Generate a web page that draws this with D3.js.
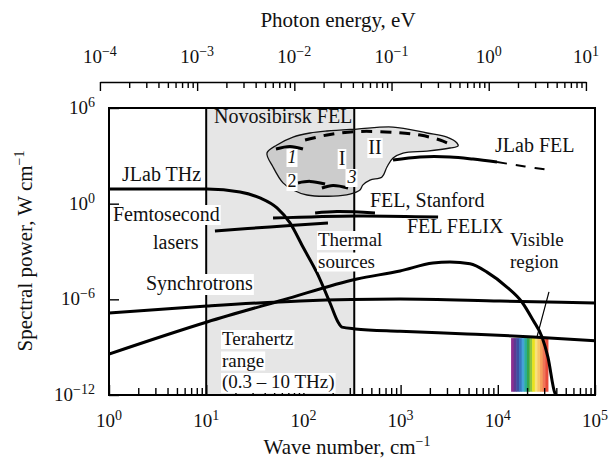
<!DOCTYPE html>
<html>
<head>
<meta charset="utf-8">
<script src="https://cdn.jsdelivr.net/npm/d3@7"></script>
<style>
body { margin: 0; background: #fff; }
text { font-family: "Liberation Serif", "DejaVu Serif", serif; fill: #111; }
</style>
</head>
<body>
<div id="chart"></div>
<script>
const width = 616
const height = 462

// wave number (cm^-1), spectral power (W cm^-1)
const jlabThz = [[1, 8.3], [10.2, 8.3], [22.3, 5.4], [35.7, 2.3], [53.5, 0.54], [72.8, 0.062], [99, 1.9e-3], [138, 4.5e-5], [188, 5.9e-7], [227, 3.8e-8], [249, 1.8e-8], [340, 1.4e-8], [986, 1.0e-8], [4820, 6.8e-9], [23000, 4.4e-9], [1e5, 2.5e-9]]
const thermal = [[1, 3.7e-10], [10.2, 3.8e-8], [61.7, 9.1e-7], [356, 1.9e-5], [986, 6.0e-5], [2150, 1.9e-4], [3220, 2.2e-4], [5180, 1.7e-4], [7740, 5.1e-5], [12400, 5.9e-6], [17700, 6.8e-7], [23000, 5.0e-8], [28500, 4.4e-9], [32800, 2.4e-10], [38700, 1.3e-12], [39700, 1e-12]]
const synchrotrons = [[1, 1.4e-7], [10.2, 3.8e-7], [92.4, 7.9e-7], [986, 1.05e-6], [10500, 7.9e-7], [1e5, 5.9e-7]]
const femtosecond = [[12.3, 0.019], [45.3, 0.035], [179, 0.062]]
const felFelix = [[48.7, 0.126], [356, 0.17], [2430, 0.145]]
const felStanford = [[132, 0.26], [222, 0.32], [545, 0.26]]
const jlabFel = [[836, 550], [1585, 850], [3220, 850], [5560, 630], [9820, 410]]
const jlabFelExt = [[9820, 410], [19000, 214], [34400, 129]]
const novoDashed = [[104, 9.8e3], [188, 2.2e4], [382, 3.4e4], [875, 2.9e4], [1585, 2.0e4], [2540, 9.8e3], [3380, 4.8e3]]
const novo1 = [[52.2, 2.7e3], [72.8, 3.9e3], [99, 2.7e3]]
const novo2 = [[88, 20], [117, 25], [167, 17]]
const novo3 = [[155, 9.6], [202, 13.8], [288, 9.6]]
const novoArea = [[42.2, 1.5e3], [53.5, 4.8e3], [78.2, 1.5e4], [117, 2.7e4], [175, 3.6e4], [356, 4.8e4], [836, 6.4e4], [1870, 2.7e4], [3000, 1.5e4], [3800, 6.4e3], [3900, 4.1e3], [3220, 3.1e3], [1870, 2.0e3], [1060, 1.5e3], [836, 730], [724, 200], [644, 47], [484, 30], [410, 15], [382, 7.2], [301, 4.0], [202, 3.0], [109, 3.5], [78.2, 7.2], [61.7, 20], [48.7, 200]]

const thzRange = [10, 333.6]          // 0.3 - 10 THz in cm^-1
const visibleBand = [13700, 32800]
const visiblePower = [1.6e-12, 3.7e-9]
const visibleLeader = [[33600, 2.9e-6], [25300, 4.4e-9]]
const visibleColors = ["#8b2f90", "#5b3b92", "#3d4fa1", "#3a76bf", "#45a2d8", "#2aae9c", "#36a64c", "#8cc43f", "#e9e31c", "#f8e27a", "#f9c467", "#f59e5c", "#f07658", "#e84b3a"]

const waveTicks = [1, 10, 100, 1e3, 1e4, 1e5]
const waveExp = ["0", "1", "2", "3", "4", "5"]
const energyTicks = [1e-4, 1e-3, 1e-2, 1e-1, 1, 10]
const energyExp = ["\u22124", "\u22123", "\u22122", "\u22121", "0", "1"]
const powerTicks = [1e-12, 1e-6, 1, 1e6]
const powerExp = ["\u221212", "\u22126", "0", "6"]

const cmPerEv = 1 / 1.23984e-4

const svg = d3.select("#chart").append("svg")
  .attr("width", width)
  .attr("height", height)

const x = d3.scaleLog().domain([1, 1e5]).range([109, 595])
const y = d3.scaleLog().domain([1e-12, 1e6]).range([395, 108])
const xTop = d3.scaleLog().domain([1e-4, 10]).range([x(1e-4 * cmPerEv), x(10 * cmPerEv)])

svg.append("clipPath").attr("id", "plot")
  .append("rect").attr("x", 109).attr("y", 108).attr("width", 486).attr("height", 287)

const plot = svg.append("g").attr("clip-path", "url(#plot)")

// terahertz band
plot.append("rect")
  .attr("x", x(thzRange[0])).attr("y", 108)
  .attr("width", x(thzRange[1]) - x(thzRange[0])).attr("height", 287)
  .attr("fill", "#e6e6e6")

const line = d3.line().x(d => x(d[0])).y(d => y(d[1])).curve(d3.curveMonotoneX)
const lineBasis = d3.line().x(d => x(d[0])).y(d => y(d[1])).curve(d3.curveCatmullRom.alpha(0.5))
const area = d3.line().x(d => x(d[0])).y(d => y(d[1])).curve(d3.curveCatmullRomClosed.alpha(0.5))

plot.append("path").attr("d", area(novoArea))
  .attr("fill", "#000").attr("fill-opacity", 0.11)

// visible spectrum strip
const band = d3.scaleBand().domain(d3.range(visibleColors.length)).range([x(visibleBand[0]), x(visibleBand[1])])
plot.selectAll(".vis").data(visibleColors).enter().append("rect")
  .attr("x", (d, i) => band(i)).attr("width", band.bandwidth() + 0.5)
  .attr("y", y(visiblePower[1])).attr("height", y(visiblePower[0]) - y(visiblePower[1]))
  .attr("fill", d => d)

plot.selectAll(".thz").data(thzRange).enter().append("line")
  .attr("x1", d => x(d)).attr("x2", d => x(d)).attr("y1", 108).attr("y2", 395)
  .attr("stroke", "#000").attr("stroke-width", 2)

plot.append("path").attr("d", area(novoArea))
  .attr("fill", "none").attr("stroke", "#111").attr("stroke-width", 1.3)

const solid = [jlabThz, thermal, synchrotrons]
solid.forEach(s => {
  plot.append("path").attr("d", line(s))
    .attr("fill", "none").attr("stroke", "#000").attr("stroke-width", 3)
})
const short = [femtosecond, felFelix, felStanford, jlabFel, novo1, novo2, novo3]
short.forEach(s => {
  plot.append("path").attr("d", lineBasis(s))
    .attr("fill", "none").attr("stroke", "#000").attr("stroke-width", 3)
})
plot.append("path").attr("d", lineBasis(novoDashed))
  .attr("fill", "none").attr("stroke", "#000").attr("stroke-width", 3)
  .attr("stroke-dasharray", "11,8")
plot.append("path").attr("d", lineBasis(jlabFelExt))
  .attr("fill", "none").attr("stroke", "#000").attr("stroke-width", 2)
  .attr("stroke-dasharray", "10,9")
plot.append("path").attr("d", d3.line().x(d => x(d[0])).y(d => y(d[1]))(visibleLeader))
  .attr("stroke", "#000").attr("stroke-width", 1.2)

// frame
svg.append("rect").attr("x", 109).attr("y", 108).attr("width", 486).attr("height", 287)
  .attr("fill", "none").attr("stroke", "#000").attr("stroke-width", 2)

const isMajor = v => Math.abs(Math.log10(v) - Math.round(Math.log10(v))) < 1e-6

const bottomAxis = svg.append("g").attr("transform", "translate(0,395)")
  .call(d3.axisBottom(x).tickValues(x.ticks()).tickSize(-7).tickSizeOuter(0).tickFormat(""))
bottomAxis.select(".domain").remove()
bottomAxis.selectAll(".tick line").filter(isMajor).attr("y2", -10)

const topAxis = svg.append("g").attr("transform", "translate(0,82)")
  .call(d3.axisBottom(xTop).tickValues(xTop.ticks()).tickSize(6).tickSizeOuter(0).tickFormat(""))
topAxis.selectAll(".tick line").filter(isMajor).attr("y2", 9)
topAxis.selectAll("line, path").attr("stroke-width", 1.4)

const leftAxis = svg.append("g").attr("transform", "translate(109,0)")
  .call(d3.axisLeft(y).tickValues(powerTicks).tickSize(-10).tickFormat(""))
leftAxis.select(".domain").remove()
bottomAxis.selectAll("line").attr("stroke-width", 1.4)
leftAxis.selectAll("line").attr("stroke-width", 1.4)

function powLabel(px, py, exp, anchor) {
  const t = svg.append("text").attr("x", px).attr("y", py)
    .attr("font-size", 19).attr("text-anchor", anchor)
  t.append("tspan").text("10")
  t.append("tspan").attr("dy", -7).attr("font-size", 14).text(exp)
  return t
}
waveTicks.forEach((v, i) => powLabel(x(v), 427, waveExp[i], "middle"))
energyTicks.forEach((v, i) => powLabel(xTop(v), 63, energyExp[i], "middle"))
powerTicks.forEach((v, i) => powLabel(95, y(v) + 6, powerExp[i], "end"))

// axis titles
svg.append("text").attr("x", 338).attr("y", 27).attr("text-anchor", "middle")
  .attr("font-size", 21).text("Photon energy, eV")
const xt = svg.append("text").attr("x", 347).attr("y", 454).attr("text-anchor", "middle").attr("font-size", 21)
xt.append("tspan").text("Wave number, cm")
xt.append("tspan").attr("dy", -8).attr("font-size", 14).text("\u22121")
const yt = svg.append("text").attr("transform", "translate(32,251) rotate(-90)")
  .attr("text-anchor", "middle").attr("font-size", 21)
yt.append("tspan").text("Spectral power, W cm")
yt.append("tspan").attr("dy", -8).attr("font-size", 14).text("\u22121")

// annotations: one text per label, extra lines as tspans
function label(lines, px, py, opts = {}) {
  const lh = opts.lh || 21.5
  const t = svg.append("text").attr("x", px).attr("y", py)
    .attr("font-size", opts.size || 20)
    .attr("text-anchor", opts.anchor || "start")
  if (opts.italic) t.attr("font-style", "italic")
  const spans = [].concat(lines).map((s, i) =>
    t.append("tspan").attr("x", opts.indent && i ? px + opts.indent[i] : px).attr("dy", i ? lh : 0).text(s))
  if (opts.box) {
    spans.forEach((sp, i) => {
      if (opts.box !== true && !opts.box[i]) return
      const b = sp.node().getBBox()
      svg.insert("rect", () => t.node())
        .attr("x", b.x - 1).attr("y", b.y + 2)
        .attr("width", b.width + 2).attr("height", b.height - 2)
        .attr("fill", "#fff")
    })
  }
}

label("Novosibirsk FEL", 214, 123)
label("JLab THz", 122, 181)
label(["Femtosecond", "lasers"], 113, 221, {lh: 28, box: [true, false], indent: [0, 40]})
label("Synchrotrons", 146, 290, {box: true})
label(["Terahertz", "range", "(0.3 \u2013 10 THz)"], 222, 345, {box: true, size: 19})
label(["Thermal", "sources"], 318, 246, {box: true, size: 19})
label("FEL, Stanford", 370, 207)
label("FEL FELIX", 407, 233)
label(["Visible", "region"], 510, 246, {size: 19})
label("JLab FEL", 495, 152)
label("I", 342, 165, {anchor: "middle", box: true})
label("II", 375, 154, {anchor: "middle", box: true})
label("1", 292, 163, {anchor: "middle", italic: true, box: true, size: 18})
label("2", 292, 187, {anchor: "middle", box: true, size: 18})
label("3", 352, 183, {anchor: "middle", italic: true, box: true, size: 18})
</script>
</body>
</html>
